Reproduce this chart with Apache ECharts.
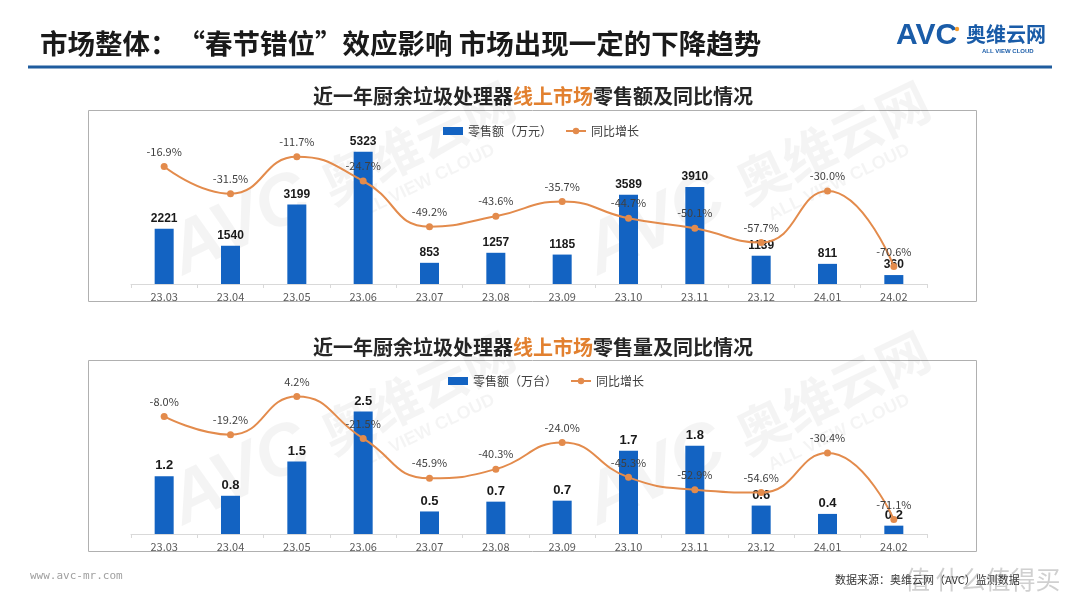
<!DOCTYPE html>
<html><head><meta charset="utf-8">
<script src="https://cdn.jsdelivr.net/npm/echarts/dist/echarts.min.js"></script>
<style>html,body{margin:0;padding:0;background:#fff}#main{width:1080px;height:608px}</style>
</head><body><div id="main"></div>
<script>
const months = ['23.03','23.04','23.05','23.06','23.07','23.08','23.09','23.10','23.11','23.12','24.01','24.02'];
const salesValue = [2221,1540,3199,5323,853,1257,1185,3589,3910,1139,811,360];
const salesValueYoY = [-16.9,-31.5,-11.7,-24.7,-49.2,-43.6,-35.7,-44.7,-50.1,-57.7,-30.0,-70.6];
const salesVolume = [1.18,0.78,1.48,2.5,0.46,0.66,0.68,1.70,1.80,0.58,0.41,0.17];
const salesVolumeYoY = [-8.0,-19.2,4.2,-21.5,-45.9,-40.3,-24.0,-45.3,-52.9,-54.6,-30.4,-71.1];

const BAR = '#1363C2', LINE = '#E38B4C', CJK = '"Noto Sans CJK SC","Noto Sans",sans-serif';
const chart = echarts.init(document.getElementById('main'));

function xAxis(gi){
  return {type:'category', gridIndex:gi, data:months,
    axisLine:{lineStyle:{color:'#d9d9d9'}},
    axisTick:{show:true, length:4, lineStyle:{color:'#d9d9d9'}},
    axisLabel:{color:'#595959', fontSize:11, margin:7, fontFamily:CJK}};
}
function yAxis(gi,min,max){ return {type:'value', gridIndex:gi, min:min, max:max, show:false, splitLine:{show:false}}; }
function barSeries(name, data, xi, yi, fmt, fs, ff){
  return {type:'bar', name:name, xAxisIndex:xi, yAxisIndex:yi, data:data, barWidth:19,
    itemStyle:{color:BAR},
    label:{show:true, position:'top', distance:4, color:'#1a1a1a', fontWeight:'bold', fontSize:fs,
      fontFamily:ff, formatter:fmt}};
}
function lineSeries(data, xi, yi){
  return {type:'line', name:'同比增长', xAxisIndex:xi, yAxisIndex:yi, data:data, smooth:true,
    symbol:'circle', symbolSize:7, itemStyle:{color:LINE}, lineStyle:{color:LINE, width:2}, z:3,
    label:{show:true, position:'top', distance:6, color:'#404040', fontSize:11, fontFamily:CJK,
      formatter:p=>p.value.toFixed(1)+'%'}};
}
function watermark(x,y){
  const f = 'rgba(0,0,0,0.045)';
  return {type:'group', x:x, y:y, rotation:0.45, z:-10, silent:true, children:[
    {type:'text', style:{text:'AVC', x:0, y:0, fontSize:72, fontWeight:'bold', fontStyle:'italic',
      fontFamily:'"Liberation Sans",sans-serif', fill:f, textVerticalAlign:'bottom'}},
    {type:'text', style:{text:'奥维云网', x:165, y:-8, fontSize:52, fontWeight:'bold', fontFamily:CJK,
      fill:f, textVerticalAlign:'bottom'}},
    {type:'text', style:{text:'ALL VIEW CLOUD', x:180, y:14, fontSize:18, fontWeight:'bold',
      fontFamily:'"Liberation Sans",sans-serif', fill:f, textVerticalAlign:'bottom'}}
  ]};
}
function chartTitle(y, tail){
  return {type:'text', x:533, y:y, style:{
    text:'{a|近一年厨余垃圾处理器}{b|线上市场}{a|'+tail+'}', textAlign:'center', textVerticalAlign:'middle',
    rich:{a:{fontSize:20, fontWeight:'bold', fill:'#262626', fontFamily:CJK},
          b:{fontSize:20, fontWeight:'bold', fill:'#E2802F', fontFamily:CJK}}}};
}

chart.setOption({
  animation:false,
  textStyle:{fontFamily:CJK},
  grid:[{left:131, right:153, top:135, height:149},{left:131, right:153, top:387, height:147}],
  xAxis:[xAxis(0), xAxis(1)],
  yAxis:[yAxis(0,0,6000), yAxis(0,-80,0), yAxis(1,0,3), yAxis(1,-80,10)],
  legend:[
    {left:438, top:120, itemWidth:20, itemHeight:8, itemGap:13,
     textStyle:{fontSize:12, color:'#404040'},
     data:[{name:'零售额（万元）', icon:'rect'}, {name:'同比增长'}]},
    {left:443, top:370, itemWidth:20, itemHeight:8, itemGap:13,
     textStyle:{fontSize:12, color:'#404040'},
     data:[{name:'零售额（万台）', icon:'rect'}, {name:'同比增长'}]}
  ],
  series:[
    barSeries('零售额（万元）', salesValue, 0, 0, p=>String(p.value), 12, '"Liberation Sans Narrow","Liberation Sans",sans-serif'),
    lineSeries(salesValueYoY, 0, 1),
    barSeries('零售额（万台）', salesVolume, 1, 2, p=>p.value.toFixed(1), 13, '"Liberation Sans",Arial,sans-serif'),
    lineSeries(salesVolumeYoY, 1, 3)
  ],
  graphic:[
    {type:'text', x:40, y:44, style:{text:'市场整体：“春节错位”效应影响 市场出现一定的下降趋势',
      fontSize:27.5, fontWeight:'bold', fill:'#1a1a1a', fontFamily:CJK, textVerticalAlign:'middle'}},
    {type:'rect', shape:{x:28, y:65.5, width:1024, height:3}, style:{fill:'#1F5C9E'}},
    {type:'text', x:896, y:36, style:{text:'AVC', fontSize:30, fontWeight:'bold',
      fill:'#1A5CA8', fontFamily:'"Liberation Sans",sans-serif', textVerticalAlign:'middle'}},
    {type:'circle', shape:{cx:957, cy:29, r:2.2}, style:{fill:'#F29A2E'}},
    {type:'text', x:966, y:34, style:{text:'奥维云网', fontSize:20, fontWeight:'bold', fill:'#1A5CA8',
      fontFamily:CJK, textVerticalAlign:'middle'}},
    {type:'text', x:982, y:51, style:{text:'ALL VIEW CLOUD', fontSize:6, fontWeight:'bold', fill:'#1A5CA8',
      fontFamily:'"Liberation Sans",sans-serif', textVerticalAlign:'middle'}},
    chartTitle(96, '零售额及同比情况'),
    chartTitle(347, '零售量及同比情况'),
    {type:'rect', shape:{x:88.5, y:110.5, width:888, height:191}, style:{fill:'none', stroke:'#b0b0b0', lineWidth:1}},
    {type:'rect', shape:{x:88.5, y:360.5, width:888, height:191}, style:{fill:'none', stroke:'#b0b0b0', lineWidth:1}},
    watermark(190, 290), watermark(605, 290), watermark(190, 540), watermark(605, 540),
    {type:'text', x:30, y:576, style:{text:'www.avc-mr.com', fontSize:11, fill:'#a0a0a0',
      fontFamily:'"DejaVu Sans Mono",monospace', textVerticalAlign:'middle'}},
    {type:'text', x:835, y:580, style:{text:'数据来源：奥维云网（AVC）监测数据', fontSize:11, fill:'#333',
      fontFamily:CJK, textVerticalAlign:'middle'}},
    {type:'text', x:905, y:579, style:{text:'值 什么值得买', fontSize:25, fill:'rgba(120,120,120,0.35)',
      fontFamily:CJK, textVerticalAlign:'middle'}}
  ]
});
</script></body></html>
